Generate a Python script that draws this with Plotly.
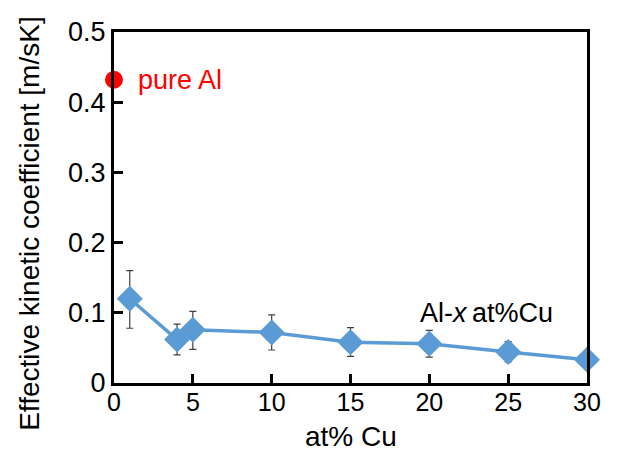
import plotly.graph_objects as go

cu = [1, 4, 5, 10, 15, 20, 25, 30]
coef = [0.120, 0.062, 0.076, 0.072, 0.058, 0.056, 0.044, 0.033]
err_plus = [0.040, 0.022, 0.026, 0.025, 0.021, 0.019, 0.015, 0.0]
err_minus = [0.042, 0.022, 0.028, 0.025, 0.020, 0.019, 0.014, 0.0]
pure_x = [0]
pure_y = [0.432]
xticks = [0, 5, 10, 15, 20, 25, 30]
yticks = [0, 0.1, 0.2, 0.3, 0.4, 0.5]
yticklabels = ["0", "0.1", "0.2", "0.3", "0.4", "0.5"]

FONT = "Liberation Sans, Arial"
blue = "#5B9BD5"
fig = go.Figure()
fig.add_trace(go.Scatter(
    x=cu, y=coef, mode="lines+markers",
    line=dict(color=blue, width=3.5),
    marker=dict(symbol="diamond", size=20, color=blue),
    error_y=dict(type="data", array=err_plus, arrayminus=err_minus,
                 color="#404040", thickness=1.2, width=3.5),
    cliponaxis=False, showlegend=False))
fig.add_trace(go.Scatter(
    x=pure_x, y=pure_y, mode="markers",
    marker=dict(symbol="circle", size=18, color="#FF0000"),
    cliponaxis=False, showlegend=False))

fig.add_annotation(x=1.4, y=pure_y[0], text="pure Al", showarrow=False,
                   xanchor="left", font=dict(color="#FF0000", size=27, family=FONT))
fig.add_annotation(x=23.65, y=0.100, text="Al-<i>x</i>\u2009at%Cu", showarrow=False,
                   xanchor="center", font=dict(color="black", size=27, family=FONT))
# y-axis title (extends beyond the plot height, as in the reference)
fig.add_annotation(xref="paper", yref="paper", x=-0.178, y=0.453,
                   text="Effective kinetic coefficient [m/sK]", textangle=-90,
                   showarrow=False, xanchor="center", yanchor="middle",
                   font=dict(color="black", size=28, family=FONT))
# x-axis title
fig.add_annotation(xref="paper", yref="paper", x=0.5, y=-0.153,
                   text="at% Cu", showarrow=False, xanchor="center", yanchor="middle",
                   font=dict(color="black", size=28, family=FONT))

fig.update_layout(
    width=628, height=453,
    margin=dict(l=114, r=41, t=32, b=70),
    paper_bgcolor="white", plot_bgcolor="white",
    font=dict(family=FONT, size=26, color="black"),
    xaxis=dict(range=[0, 30], tickvals=xticks, automargin=False,
               ticks="inside", ticklen=9, tickwidth=3, tickcolor="black",
               tickfont=dict(size=25), ticklabelstandoff=-5,
               showline=True, linecolor="black", linewidth=3, mirror=True,
               showgrid=False, zeroline=False),
    yaxis=dict(range=[0, 0.5], tickvals=yticks, ticktext=yticklabels, automargin=False,
               ticks="inside", ticklen=9, tickwidth=3, tickcolor="black",
               tickfont=dict(size=27),
               showline=True, linecolor="black", linewidth=3, mirror=True,
               showgrid=False, zeroline=False),
)
fig.write_html("out.html")
